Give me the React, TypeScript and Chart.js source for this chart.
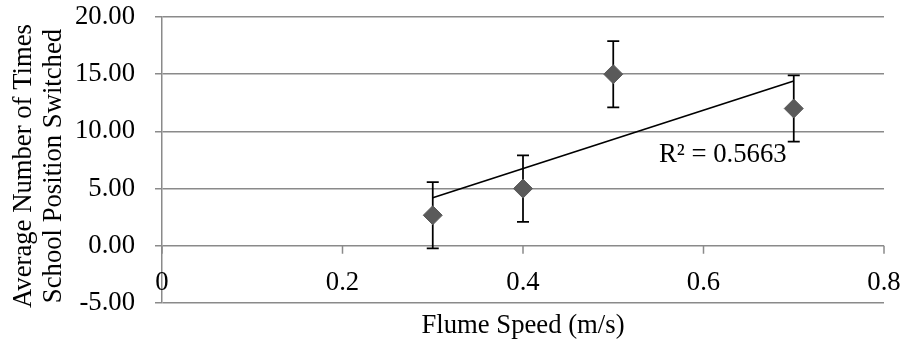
import React, { useEffect, useRef } from 'react';
import { Chart, registerables } from 'chart.js';

Chart.register(...registerables);

// ---- data ----
const flumeSpeeds = [0.3, 0.4, 0.5, 0.7];
const avgSwitches = [2.67, 5.0, 15.0, 12.0];
const errorMargins = [2.9, 2.9, 2.9, 2.9];
const xTickValues = [0, 0.2, 0.4, 0.6, 0.8];
const xTickLabels = ['0', '0.2', '0.4', '0.6', '0.8'];
const yTickValues = [-5, 0, 5, 10, 15, 20];
const rSquaredText = 'R\u00B2 = 0.5663';
const xTitle = 'Flume Speed (m/s)';
const yTitleLines = ['Average Number of Times', 'School Position Switched'];

const FONT = '"Liberation Serif", "Times New Roman", serif';
const FS = 26.7;
const GRID = '#8a8a8a';

function linearFit(xs: number[], ys: number[]) {
  const n = xs.length;
  const mx = xs.reduce((a, b) => a + b, 0) / n;
  const my = ys.reduce((a, b) => a + b, 0) / n;
  let sxy = 0, sxx = 0;
  for (let i = 0; i < n; i++) {
    sxy += (xs[i] - mx) * (ys[i] - my);
    sxx += (xs[i] - mx) * (xs[i] - mx);
  }
  const slope = sxy / sxx;
  return { slope, intercept: my - slope * mx };
}

export default function App() {
  const ref = useRef<HTMLCanvasElement | null>(null);

  useEffect(() => {
    document.body.style.margin = '0';
    const canvas = ref.current;
    if (!canvas) return;

    const fit = linearFit(flumeSpeeds, avgSwitches);
    const xMin = Math.min(...flumeSpeeds);
    const xMax = Math.max(...flumeSpeeds);
    const trend = [
      { x: xMin, y: fit.intercept + fit.slope * xMin },
      { x: xMax, y: fit.intercept + fit.slope * xMax },
    ];

    const customPlugin = {
      id: 'custom',
      beforeDatasetsDraw(chart: any) {
        const ctx = chart.ctx;
        const xs = chart.scales.x;
        const ys = chart.scales.y;
        ctx.save();
        ctx.strokeStyle = '#000';
        ctx.lineWidth = 1.75;
        flumeSpeeds.forEach((v, i) => {
          const px = xs.getPixelForValue(v);
          const top = ys.getPixelForValue(avgSwitches[i] + errorMargins[i]);
          const bot = ys.getPixelForValue(avgSwitches[i] - errorMargins[i]);
          ctx.beginPath();
          ctx.moveTo(px, top);
          ctx.lineTo(px, bot);
          ctx.moveTo(px - 6, top);
          ctx.lineTo(px + 6, top);
          ctx.moveTo(px - 6, bot);
          ctx.lineTo(px + 6, bot);
          ctx.stroke();
        });
        ctx.restore();
      },
      afterDraw(chart: any) {
        const ctx = chart.ctx;
        const xs = chart.scales.x;
        const ys = chart.scales.y;
        const area = chart.chartArea;
        const y0 = ys.getPixelForValue(0);
        ctx.save();
        // x axis tick marks at y = 0
        ctx.strokeStyle = GRID;
        ctx.lineWidth = 1.5;
        ctx.beginPath();
        xTickValues.forEach((v) => {
          const px = xs.getPixelForValue(v);
          ctx.moveTo(px, y0);
          ctx.lineTo(px, y0 + 8);
        });
        ctx.stroke();
        // x tick labels
        ctx.fillStyle = '#000';
        ctx.font = `${FS}px ${FONT}`;
        ctx.textAlign = 'center';
        ctx.textBaseline = 'alphabetic';
        xTickValues.forEach((v, i) => {
          ctx.fillText(xTickLabels[i], xs.getPixelForValue(v), y0 + 44);
        });
        // x title
        ctx.fillText(xTitle, (area.left + area.right) / 2, 333);
        // y title
        ctx.save();
        ctx.translate(0, 166);
        ctx.rotate(-Math.PI / 2);
        ctx.textAlign = 'center';
        ctx.fillText(yTitleLines[0], 0, 31);
        ctx.fillText(yTitleLines[1], 0, 61);
        ctx.restore();
        // R squared label
        ctx.textAlign = 'left';
        ctx.fillText(rSquaredText, xs.getPixelForValue(0.5507), ys.getPixelForValue(7.34));
        ctx.restore();
      },
    };

    const chart = new Chart(canvas, {
      type: 'scatter',
      data: {
        datasets: [
          {
            type: 'line',
            data: trend,
            borderColor: '#000',
            borderWidth: 1.75,
            pointRadius: 0,
            fill: false,
          } as any,
          {
            data: flumeSpeeds.map((x, i) => ({ x, y: avgSwitches[i] })),
            pointStyle: 'rectRot',
            pointRadius: 9.5,
            backgroundColor: '#5a5a5a',
            borderColor: '#5a5a5a',
            borderWidth: 1,
          },
        ],
      },
      options: {
        responsive: false,
        animation: false,
        devicePixelRatio: 1,
        layout: { padding: { left: 0, top: 17, right: 19, bottom: 40 } },
        plugins: {
          legend: { display: false },
          tooltip: { enabled: false },
          title: { display: false },
        },
        scales: {
          x: {
            type: 'linear',
            display: false,
            min: 0,
            max: 0.8,
          },
          y: {
            type: 'linear',
            min: -5,
            max: 20,
            afterFit: (scale: any) => {
              scale.width = 162;
              scale.paddingTop = 0;
              scale.paddingBottom = 0;
            },
            afterBuildTicks: (scale: any) => {
              scale.ticks = yTickValues.map((v) => ({ value: v }));
            },
            ticks: {
              callback: (v: any) => Number(v).toFixed(2),
              color: '#000',
              font: { family: FONT, size: FS },
              padding: 20,
            },
            grid: {
              color: GRID,
              lineWidth: 1.5,
              tickLength: 7,
              drawTicks: true,
            },
            border: { display: true, color: GRID, width: 1.5 },
          },
        },
      },
      plugins: [customPlugin],
    });

    return () => chart.destroy();
  }, []);

  return <canvas ref={ref} width={903} height={343} style={{ display: 'block' }} />;
}
